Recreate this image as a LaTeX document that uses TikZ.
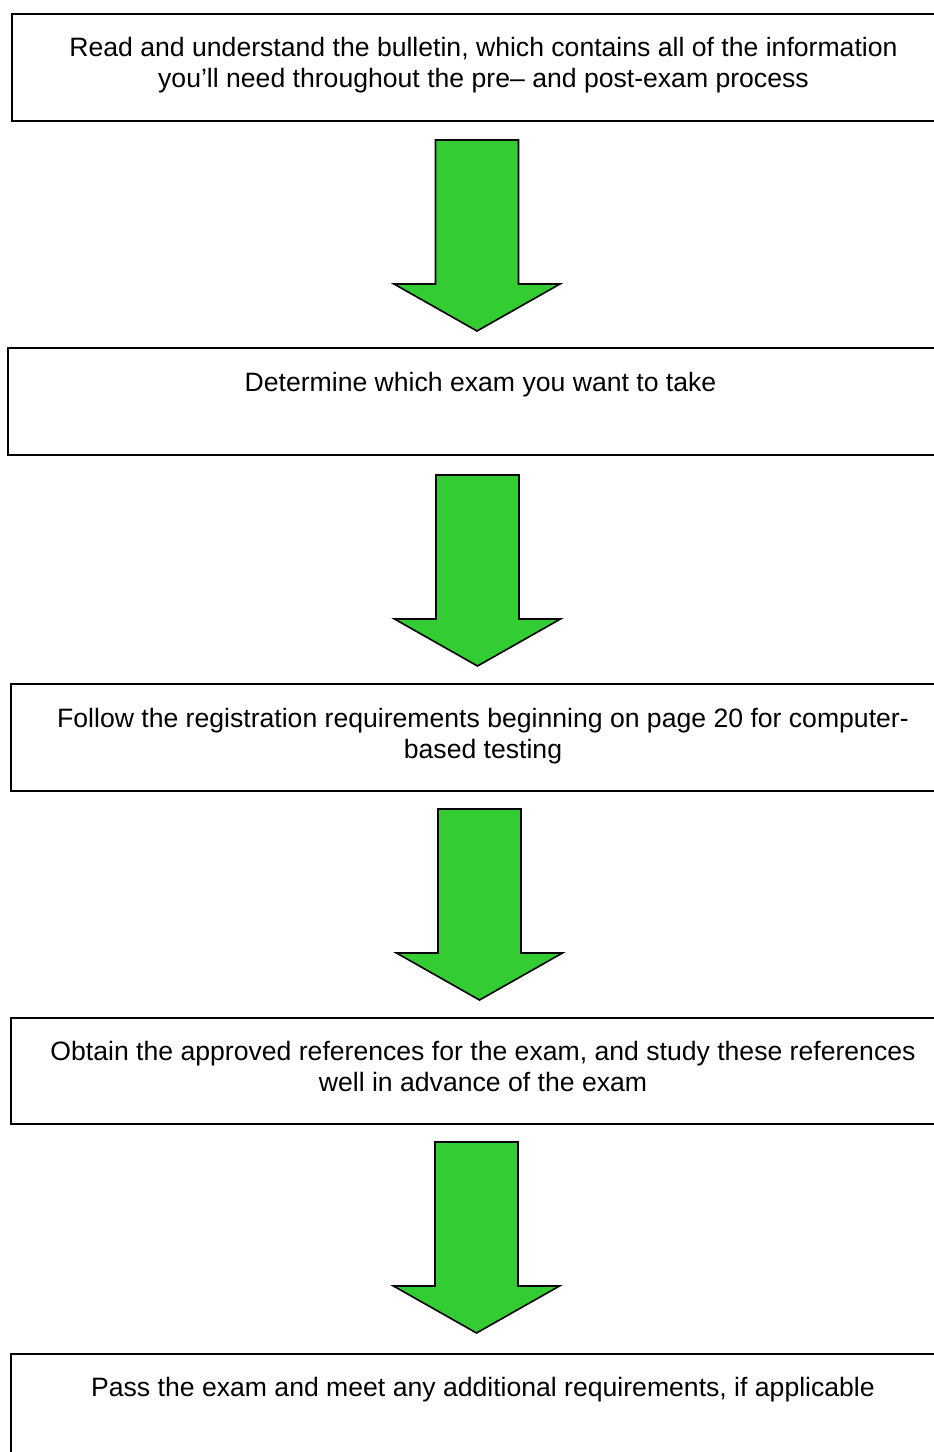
\documentclass[tikz,border=0pt]{standalone}
\usepackage{fontspec}
\setmainfont{Liberation Sans}
\definecolor{arrowgreen}{HTML}{33CC33}
\tikzset{
  stepbox/.style={draw=black, line width=2pt, fill=white, rectangle, inner sep=0pt, anchor=north west},
  steptext/.style={align=center, inner sep=0pt, anchor=base, font=\fontsize{26.6}{31}\selectfont},
  pics/downarrow/.style={code={
    \draw[fill=arrowgreen, draw=black, line width=1.6pt, line join=miter]
      (-41.5,0) -- (41.5,0) -- (41.5,144) -- (83,144) -- (0,191) -- (-83,144) -- (-41.5,144) -- cycle;
  }}
}
\begin{document}
\begin{tikzpicture}[x=1pt,y=-1pt]
\clip (0,0) rectangle (934,1452);
\fill[white] (0,0) rectangle (934,1452);
% boxes
\node[stepbox, minimum width=960pt, minimum height=107pt] (b1) at (11,13) {};
\node[stepbox, minimum width=960pt, minimum height=107pt] (b2) at (7,347) {};
\node[stepbox, minimum width=960pt, minimum height=107pt] (b3) at (10,683) {};
\node[stepbox, minimum width=960pt, minimum height=106pt] (b4) at (10,1017) {};
\node[stepbox, minimum width=960pt, minimum height=150pt] (b5) at (10,1353) {};
% texts (anchor base = baseline of the last line)
\node[steptext] (t1) at (483.5,87) {Read and understand the bulletin, which contains all of the information\\you’ll need throughout the pre– and post-exam process};
\node[steptext] (t2) at (480.5,391) {Determine which exam you want to take};
\node[steptext] (t3) at (483,758) {Follow the registration requirements beginning on page 20 for computer-\\based testing};
\node[steptext] (t4) at (483,1091) {Obtain the approved references for the exam, and study these references\\well in advance of the exam};
\node[steptext] (t5) at (483,1396) {Pass the exam and meet any additional requirements, if applicable};
% arrows
\pic at (477,140) {downarrow};
\pic at (477.5,475) {downarrow};
\pic at (479.5,809) {downarrow};
\pic at (476.5,1142) {downarrow};
\end{tikzpicture}
\end{document}
